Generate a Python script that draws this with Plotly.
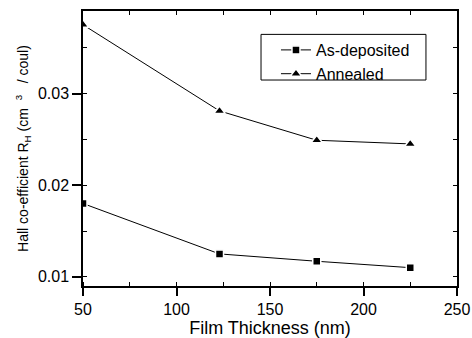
import plotly.graph_objects as go

# Hall coefficient versus film thickness
thickness = [50, 123, 175, 225]
rh_as_deposited = [0.0180, 0.0125, 0.0117, 0.0110]
rh_annealed = [0.0375, 0.0281, 0.0249, 0.0245]

series_names = ["As-deposited", "Annealed"]

x_ticks = [50, 100, 150, 200, 250]
y_ticks = [0.01, 0.02, 0.03]
y_tick_labels = ["0.01", "0.02", "0.03"]

FONT = "Arial, Liberation Sans, sans-serif"
X_RANGE = [50, 250]
Y_RANGE = [0.009, 0.039]

fig = go.Figure()

fig.add_trace(go.Scatter(
    x=thickness, y=rh_as_deposited, name=series_names[0],
    mode="lines+markers",
    line=dict(color="black", width=1),
    marker=dict(symbol="square", size=8, color="black",
                line=dict(color="white", width=1.5)),
))
fig.add_trace(go.Scatter(
    x=thickness, y=rh_annealed, name=series_names[1],
    mode="lines+markers",
    line=dict(color="black", width=1),
    marker=dict(symbol="triangle-up", size=10, color="black",
                line=dict(color="white", width=1.5)),
))
# empty trace so the top/right tick axes get drawn
fig.add_trace(go.Scatter(x=[], y=[], xaxis="x2", yaxis="y2",
                         showlegend=False, hoverinfo="skip"))

# legend frame
fig.add_shape(type="rect", xref="paper", yref="paper",
              x0=0.476, x1=0.917, y0=0.749, y1=0.915,
              line=dict(color="black", width=1), fillcolor="rgba(0,0,0,0)",
              layer="above")

fig.update_layout(
    width=472, height=338,
    margin=dict(l=83, r=15, t=11, b=52, autoexpand=False),
    paper_bgcolor="white", plot_bgcolor="white",
    font=dict(family=FONT, color="black", size=16),
    showlegend=True,
    legend=dict(x=0.516, y=0.92, xanchor="left", yanchor="top",
                bgcolor="rgba(0,0,0,0)", borderwidth=0,
                font=dict(size=16, family=FONT), tracegroupgap=0),
    xaxis=dict(
        range=X_RANGE, tickvals=x_ticks, ticks="outside", ticklen=8,
        tickwidth=1.5, tickcolor="black",
        minor=dict(dtick=25, tick0=0, ticks="inside", ticklen=4,
                   tickwidth=1.2, tickcolor="black"),
        showline=True, linecolor="black", linewidth=1.5, mirror=True,
        showgrid=False, zeroline=False, automargin=False,
        tickfont=dict(size=16, family=FONT),
        title=dict(text="Film Thickness (nm)",
                   font=dict(size=18, family=FONT), standoff=7),
    ),
    yaxis=dict(
        range=Y_RANGE, tickvals=y_ticks, ticktext=y_tick_labels,
        ticks="outside", ticklen=9, tickwidth=1.5, tickcolor="black",
        minor=dict(dtick=0.005, tick0=0, ticks="inside", ticklen=4,
                   tickwidth=1.2, tickcolor="black"),
        showline=True, linecolor="black", linewidth=1.5, mirror=True,
        showgrid=False, zeroline=False, automargin=False,
        tickfont=dict(size=16, family=FONT),
        title=dict(text="Hall co-efficient R<sub>H</sub> (cm\u00a0\u00a0<sup>3</sup>\u00a0\u00a0\u00a0/ coul)",
                   font=dict(size=14, family=FONT), standoff=6),
    ),
    xaxis2=dict(
        overlaying="x", side="top", anchor="y", range=X_RANGE,
        dtick=25, tick0=0, ticks="inside", ticklen=4, tickwidth=1.2,
        tickcolor="black", showticklabels=False, showline=False,
        showgrid=False, zeroline=False, automargin=False,
    ),
    yaxis2=dict(
        overlaying="y", side="right", anchor="x", range=Y_RANGE,
        dtick=0.005, tick0=0, ticks="inside", ticklen=4, tickwidth=1.2,
        tickcolor="black", showticklabels=False, showline=False,
        showgrid=False, zeroline=False, automargin=False,
    ),
)

fig.write_html("out.html")
